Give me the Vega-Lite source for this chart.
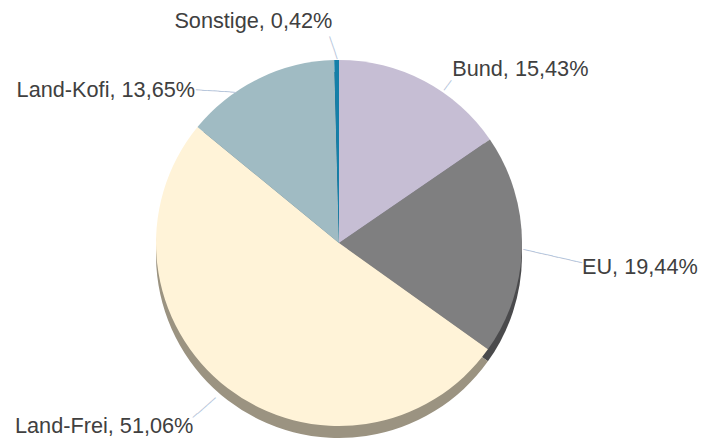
{
  "$schema": "https://vega.github.io/schema/vega-lite/v6.json",
  "width": 678,
  "height": 388,
  "autosize": {"type": "none"},
  "padding": {"left": 0, "top": 49, "right": 23, "bottom": 2},
  "background": "white",
  "config": {"view": {"stroke": null}},
  "data": {
    "values": [
      {"cat": "Bund", "value": 15.43, "label": "Bund, 15,43%"},
      {"cat": "EU", "value": 19.44, "label": "EU, 19,44%"},
      {"cat": "Land-Frei", "value": 51.06, "label": "Land-Frei, 51,06%"},
      {"cat": "Land-Kofi", "value": 13.65, "label": "Land-Kofi, 13,65%"},
      {"cat": "Sonstige", "value": 0.42, "label": "Sonstige, 0,42%"}
    ]
  },
  "encoding": {
    "theta": {"field": "value", "type": "quantitative", "stack": true},
    "order": {"field": "cat", "type": "ordinal", "sort": "ascending"}
  },
  "layer": [
    {
      "mark": {"type": "arc", "radius": 183, "yOffset": 12},
      "encoding": {
        "color": {
          "field": "cat", "type": "nominal", "legend": null,
          "scale": {"domain": ["Bund", "EU", "Land-Frei", "Land-Kofi", "Sonstige"],
                    "range": ["#8e879a", "#4a4a4c", "#9b9381", "#6f858b", "#125a78"]}
        }
      }
    },
    {
      "mark": {"type": "arc", "radius": 183},
      "encoding": {
        "fill": {
          "field": "cat", "type": "nominal", "legend": null,
          "scale": {"domain": ["Bund", "EU", "Land-Frei", "Land-Kofi", "Sonstige"],
                    "range": ["#c6bed4", "#7f7f80", "#fff3d8", "#a0bbc3", "#157fa8"]}
        }
      }
    },
    {
      "mark": {"type": "text", "radius": 190, "font": "DejaVu Sans Mono", "fontSize": 10, "color": "#b4c4da", "align": "center", "baseline": "middle", "angle": 71.6, "dx": -5.9, "dy": 1.7},
      "encoding": {"text": {"condition": {"test": "datum.cat === 'Sonstige'", "value": "────"}, "value": ""}}
    },
    {
      "mark": {"type": "text", "radius": 190, "font": "DejaVu Sans Mono", "fontSize": 10, "color": "#b4c4da", "align": "center", "baseline": "middle", "angle": -54, "dx": 3.4, "dy": 22.8},
      "encoding": {"text": {"condition": {"test": "datum.cat === 'Bund'", "value": "──"}, "value": ""}}
    },
    {
      "mark": {"type": "text", "radius": 190, "font": "DejaVu Sans Mono", "fontSize": 10, "color": "#b4c4da", "align": "center", "baseline": "middle", "angle": 12.8, "dx": 25.5, "dy": 6.2},
      "encoding": {"text": {"condition": {"test": "datum.cat === 'EU'", "value": "──────────"}, "value": ""}}
    },
    {
      "mark": {"type": "text", "radius": 190, "font": "DejaVu Sans Mono", "fontSize": 10, "color": "#b4c4da", "align": "center", "baseline": "middle", "angle": -41, "dx": -23.6, "dy": -1.8},
      "encoding": {"text": {"condition": {"test": "datum.cat === 'Land-Frei'", "value": "─────"}, "value": ""}}
    },
    {
      "mark": {"type": "text", "radius": 190, "font": "DejaVu Sans Mono", "fontSize": 9.5, "color": "#b4c4da", "align": "center", "baseline": "middle", "angle": 3.5, "dx": -38.3, "dy": 21.3},
      "encoding": {"text": {"condition": {"test": "datum.cat === 'Land-Kofi'", "value": "───────"}, "value": ""}}
    },
    {
      "mark": {"type": "text", "radius": 200, "font": "Liberation Sans", "fontSize": 21.7, "color": "#404040", "align": "right", "baseline": "alphabetic", "dx": -4, "dy": -15},
      "encoding": {"text": {"condition": {"test": "datum.cat === 'Sonstige'", "field": "label"}, "value": ""}}
    },
    {
      "mark": {"type": "text", "radius": 200, "font": "Liberation Sans", "fontSize": 21.7, "color": "#404040", "align": "left", "baseline": "alphabetic", "dx": 20, "dy": 10},
      "encoding": {"text": {"condition": {"test": "datum.cat === 'Bund'", "field": "label"}, "value": ""}}
    },
    {
      "mark": {"type": "text", "radius": 200, "font": "Liberation Sans", "fontSize": 21.7, "color": "#404040", "align": "left", "baseline": "alphabetic", "dx": 43, "dy": 29},
      "encoding": {"text": {"condition": {"test": "datum.cat === 'EU'", "field": "label"}, "value": ""}}
    },
    {
      "mark": {"type": "text", "radius": 200, "font": "Liberation Sans", "fontSize": 21.7, "color": "#404040", "align": "right", "baseline": "alphabetic", "dx": -24, "dy": 31},
      "encoding": {"text": {"condition": {"test": "datum.cat === 'Land-Frei'", "field": "label"}, "value": ""}}
    },
    {
      "mark": {"type": "text", "radius": 200, "font": "Liberation Sans", "fontSize": 21.7, "color": "#404040", "align": "right", "baseline": "alphabetic", "dx": -56, "dy": 34},
      "encoding": {"text": {"condition": {"test": "datum.cat === 'Land-Kofi'", "field": "label"}, "value": ""}}
    }
  ]
}
